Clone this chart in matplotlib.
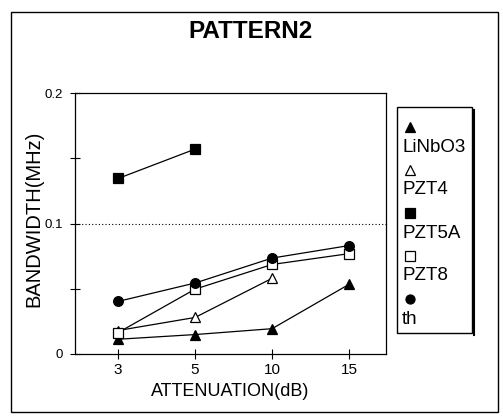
import numpy as np
import matplotlib
matplotlib.use("Agg")
import matplotlib.pyplot as plt
from matplotlib.lines import Line2D
from matplotlib.patches import Rectangle

plt.rcParams['font.family'] = ['Liberation Sans', 'DejaVu Sans']

categories = ['3', '5', '10', '15']
series_names = ['LiNbO3', 'PZT4', 'PZT5A', 'PZT8', 'th']
LiNbO3 = [0.0113, 0.0149, 0.0194, 0.0534]
PZT4 = [0.018, 0.028, 0.058, np.nan]
PZT5A = [0.1345, 0.157, np.nan, np.nan]
PZT8 = [0.0164, 0.0497, 0.0686, 0.0769]
th = [0.0403, 0.0544, 0.0735, 0.0831]
y_ticks = [0, 0.1, 0.2]
y_tick_labels = ['0', '0.1', '0.2']

styles = {
    'LiNbO3': dict(marker='^', mfc='black'),
    'PZT4': dict(marker='^', mfc='white'),
    'PZT5A': dict(marker='s', mfc='black'),
    'PZT8': dict(marker='s', mfc='white'),
    'th': dict(marker='o', mfc='black'),
}
data = {'LiNbO3': LiNbO3, 'PZT4': PZT4, 'PZT5A': PZT5A, 'PZT8': PZT8, 'th': th}

W, H = 503, 416
fig = plt.figure(figsize=(W / 100, H / 100), dpi=100)
fig.patch.set_facecolor('white')

# outer frame
fig.add_artist(Rectangle((11 / W, 1 - 412 / H), (498 - 11) / W, (412 - 12) / H,
                         transform=fig.transFigure, fill=False, lw=1.0, ec='black'))

ax = fig.add_axes([75 / W, 1 - 354 / H, (386 - 75) / W, (354 - 93) / H])
x = np.arange(len(categories))
for name in series_names:
    st = styles[name]
    ax.plot(x, data[name], color='black', lw=0.9, marker=st['marker'],
            mfc=st['mfc'], mec='black', ms=7, mew=0.9, zorder=3)

ax.set_xlim(-0.56, 3.48)
ax.set_ylim(0, 0.2)
ax.set_xticks(x)
ax.set_xticklabels(categories)
ax.set_yticks(y_ticks)
ax.set_yticklabels(y_tick_labels)
ax.set_yticks([0.05, 0.15], minor=True)
ax.axhline(0.1, color='black', lw=0.8, ls=(0, (1, 2)), zorder=1)
ax.tick_params(axis='both', which='both', direction='inout', length=7, width=0.8)
ax.tick_params(axis='x', labelsize=11, pad=3)
ax.tick_params(axis='y', labelsize=9.5, pad=5)
for s in ax.spines.values():
    s.set_linewidth(0.9)
ax.set_xlabel('ATTENUATION(dB)', fontsize=13, labelpad=4)
fig.text(34 / W, 1 - 219 / H, 'BANDWIDTH(MHz)', rotation=90, fontsize=14.5,
         ha='center', va='center')
fig.text(251 / W, 1 - 31 / H, 'PATTERN2', fontsize=17.5, fontweight='bold',
         ha='center', va='center')

# legend (manual)
lx0, ly0, lx1, ly1 = 397, 107, 472, 333
fig.add_artist(Rectangle((lx0 / W, 1 - ly1 / H), (lx1 - lx0) / W, (ly1 - ly0) / H,
                         transform=fig.transFigure, fill=False, lw=1.0, ec='black'))
fig.add_artist(Line2D([(lx1 + 2) / W, (lx1 + 2) / W], [1 - (ly0 + 3) / H, 1 - (ly1 + 2) / H],
                      transform=fig.transFigure, color='black', lw=1.5))
step = 43
for i, name in enumerate(series_names):
    st = styles[name]
    my = 127 + i * step
    ty = 147 + i * step
    fig.add_artist(Line2D([410 / W], [1 - my / H], transform=fig.transFigure,
                          marker=st['marker'], mfc=st['mfc'], mec='black', ms=6.5, mew=0.9))
    fig.text(402 / W, 1 - ty / H, name, fontsize=13.5, ha='left', va='center')

fig.savefig('out.png', dpi=100)
